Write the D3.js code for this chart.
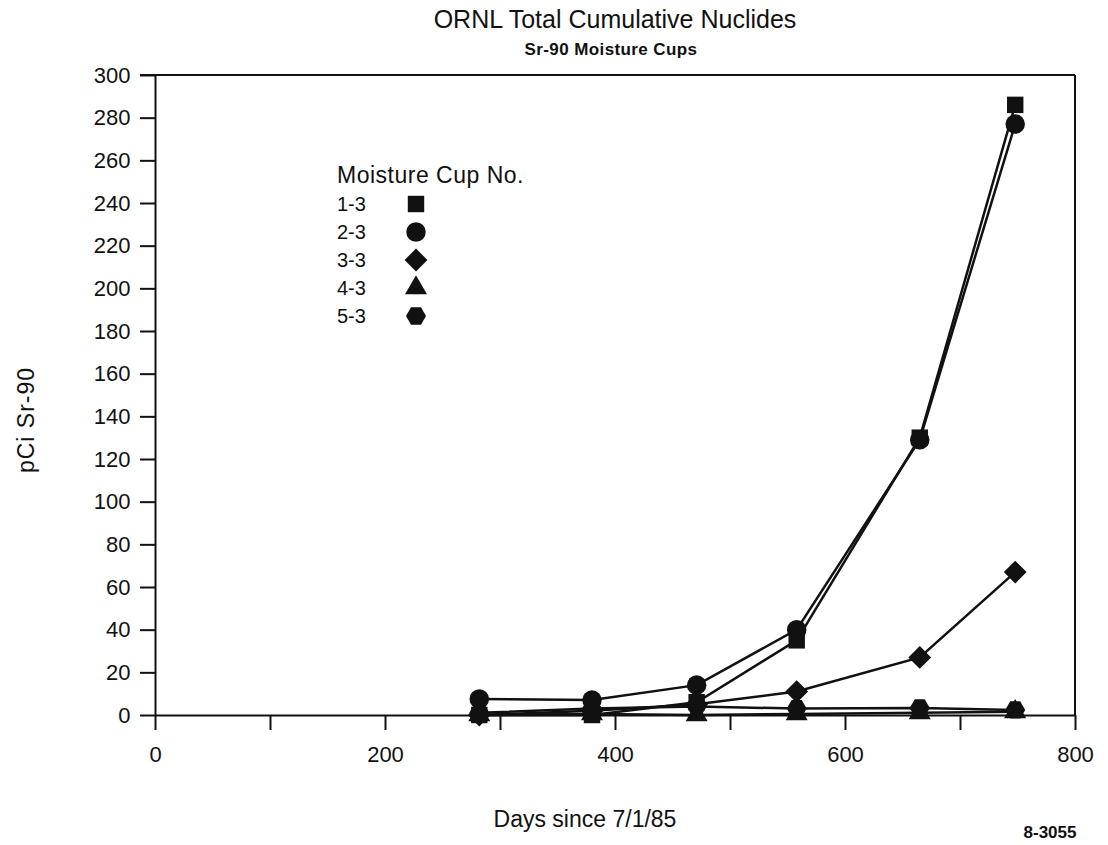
<!DOCTYPE html>
<meta charset="utf-8">
<style>
  body { margin: 0; background: #fff; }
  text { font-family: "Liberation Sans", Arial, sans-serif; fill: #111; }
</style>
<svg width="1108" height="845"></svg>
<script src="https://d3js.org/d3.v7.min.js"></script>
<script>

// days since 7/1/85 for each sampling
var days = [282, 380, 471, 558, 665, 748];

// pCi Sr-90 per moisture cup
var cups = ["1-3", "2-3", "3-3", "4-3", "5-3"];
var cup13 = [0, 0, 6, 35, 130, 286];
var cup23 = [7.5, 7, 14, 40, 129, 277];
var cup33 = [0, 2, 5, 11, 27, 67];
var cup43 = [0, 0.5, 0, 0.5, 1, 1.5];
var cup53 = [1, 3, 4, 3, 3.3, 2.4];

var xTicks = [0, 100, 200, 300, 400, 500, 600, 700, 800];
var xLabels = [0, 200, 400, 600, 800];
var yTicks = d3.range(0, 301, 20);

var svg = d3.select("svg");
var x = d3.scaleLinear().domain([0, 800]).range([155, 1075]);
var y = d3.scaleLinear().domain([0, 300]).range([715, 75]);

// hexagon and a square-ish diamond aren't built-in symbols
var hexagon = {
    draw: function(ctx, size) {
        var r = Math.sqrt(size / (1.5 * Math.sqrt(3)));
        for (var i = 0; i < 6; i++) {
            var a = i * Math.PI / 3;
            if (i == 0) ctx.moveTo(r * Math.cos(a), r * Math.sin(a));
            else ctx.lineTo(r * Math.cos(a), r * Math.sin(a));
        }
        ctx.closePath();
    }
};
var diamond = {
    draw: function(ctx, size) {
        var r = Math.sqrt(size / 2);
        ctx.moveTo(0, -r);
        ctx.lineTo(r, 0);
        ctx.lineTo(0, r);
        ctx.lineTo(-r, 0);
        ctx.closePath();
    }
};
var shapes = [d3.symbolSquare, d3.symbolCircle, diamond, d3.symbolTriangle, hexagon];
var sizes = [270, 300, 260, 210, 260];
var series = [cup13, cup23, cup33, cup43, cup53];

// frame: top and right edges
svg.append("line").attr("x1", 140).attr("x2", x(800)).attr("y1", y(300)).attr("y2", y(300))
    .attr("stroke", "#111").attr("stroke-width", 2);
svg.append("line").attr("x1", x(800)).attr("x2", x(800)).attr("y1", y(300)).attr("y2", y(0))
    .attr("stroke", "#111").attr("stroke-width", 2);

var xAxis = svg.append("g")
    .attr("transform", "translate(0," + y(0) + ")")
    .call(d3.axisBottom(x).tickValues(xTicks).tickSize(15).tickSizeOuter(0)
        .tickFormat(function(d) { return xLabels.includes(d) ? d : ""; }));
xAxis.selectAll("text").attr("font-size", 22).attr("dy", "1.3em");

var yAxis = svg.append("g")
    .attr("transform", "translate(" + x(0) + ",0)")
    .call(d3.axisLeft(y).tickValues(yTicks).tickSize(15).tickSizeOuter(0));
yAxis.selectAll("text").attr("font-size", 22).attr("dx", "-0.3em");
svg.selectAll(".domain, .tick line").attr("stroke", "#111").attr("stroke-width", 2);

var line = d3.line()
    .x(function(d, i) { return x(days[i]); })
    .y(function(d) { return y(d); });

series.forEach(function(s, k) {
    svg.append("path")
        .datum(s)
        .attr("d", line)
        .attr("fill", "none")
        .attr("stroke", "#111")
        .attr("stroke-width", 2.5);
});

// draw markers from last series to first so squares/circles sit on top
for (var k = series.length - 1; k >= 0; k--) {
    svg.append("g").selectAll("path")
        .data(series[k])
        .enter().append("path")
        .attr("d", d3.symbol().type(shapes[k]).size(sizes[k]))
        .attr("transform", function(d, i) { return "translate(" + x(days[i]) + "," + y(d) + ")"; })
        .attr("fill", "#111");
}

// legend
var legend = svg.append("g").attr("transform", "translate(337,183)");
legend.append("text").text("Moisture Cup No.").attr("font-size", 23).attr("letter-spacing", 0.5);
cups.forEach(function(c, i) {
    var yy = 28 + i * 28;
    legend.append("text").text(c).attr("y", yy).attr("font-size", 20);
    legend.append("path")
        .attr("d", d3.symbol().type(shapes[i]).size(sizes[i]))
        .attr("transform", "translate(79," + (yy - 7) + ")")
        .attr("fill", "#111");
});

svg.append("text").attr("x", 615).attr("y", 28).attr("text-anchor", "middle")
    .attr("font-size", 25).text("ORNL Total Cumulative Nuclides");
svg.append("text").attr("x", 611).attr("y", 55).attr("text-anchor", "middle")
    .attr("font-size", 17).attr("font-weight", "bold").attr("letter-spacing", 0.4)
    .attr("fill", "#222").text("Sr-90 Moisture Cups");
svg.append("text").attr("transform", "translate(34,420) rotate(-90)").attr("text-anchor", "middle")
    .attr("font-size", 23).attr("letter-spacing", 1).text("pCi Sr-90");
svg.append("text").attr("x", 585).attr("y", 827).attr("text-anchor", "middle")
    .attr("font-size", 23).text("Days since 7/1/85");
svg.append("text").attr("x", 1050).attr("y", 838).attr("text-anchor", "middle")
    .attr("font-size", 17).attr("font-weight", "bold").text("8-3055");

</script>
